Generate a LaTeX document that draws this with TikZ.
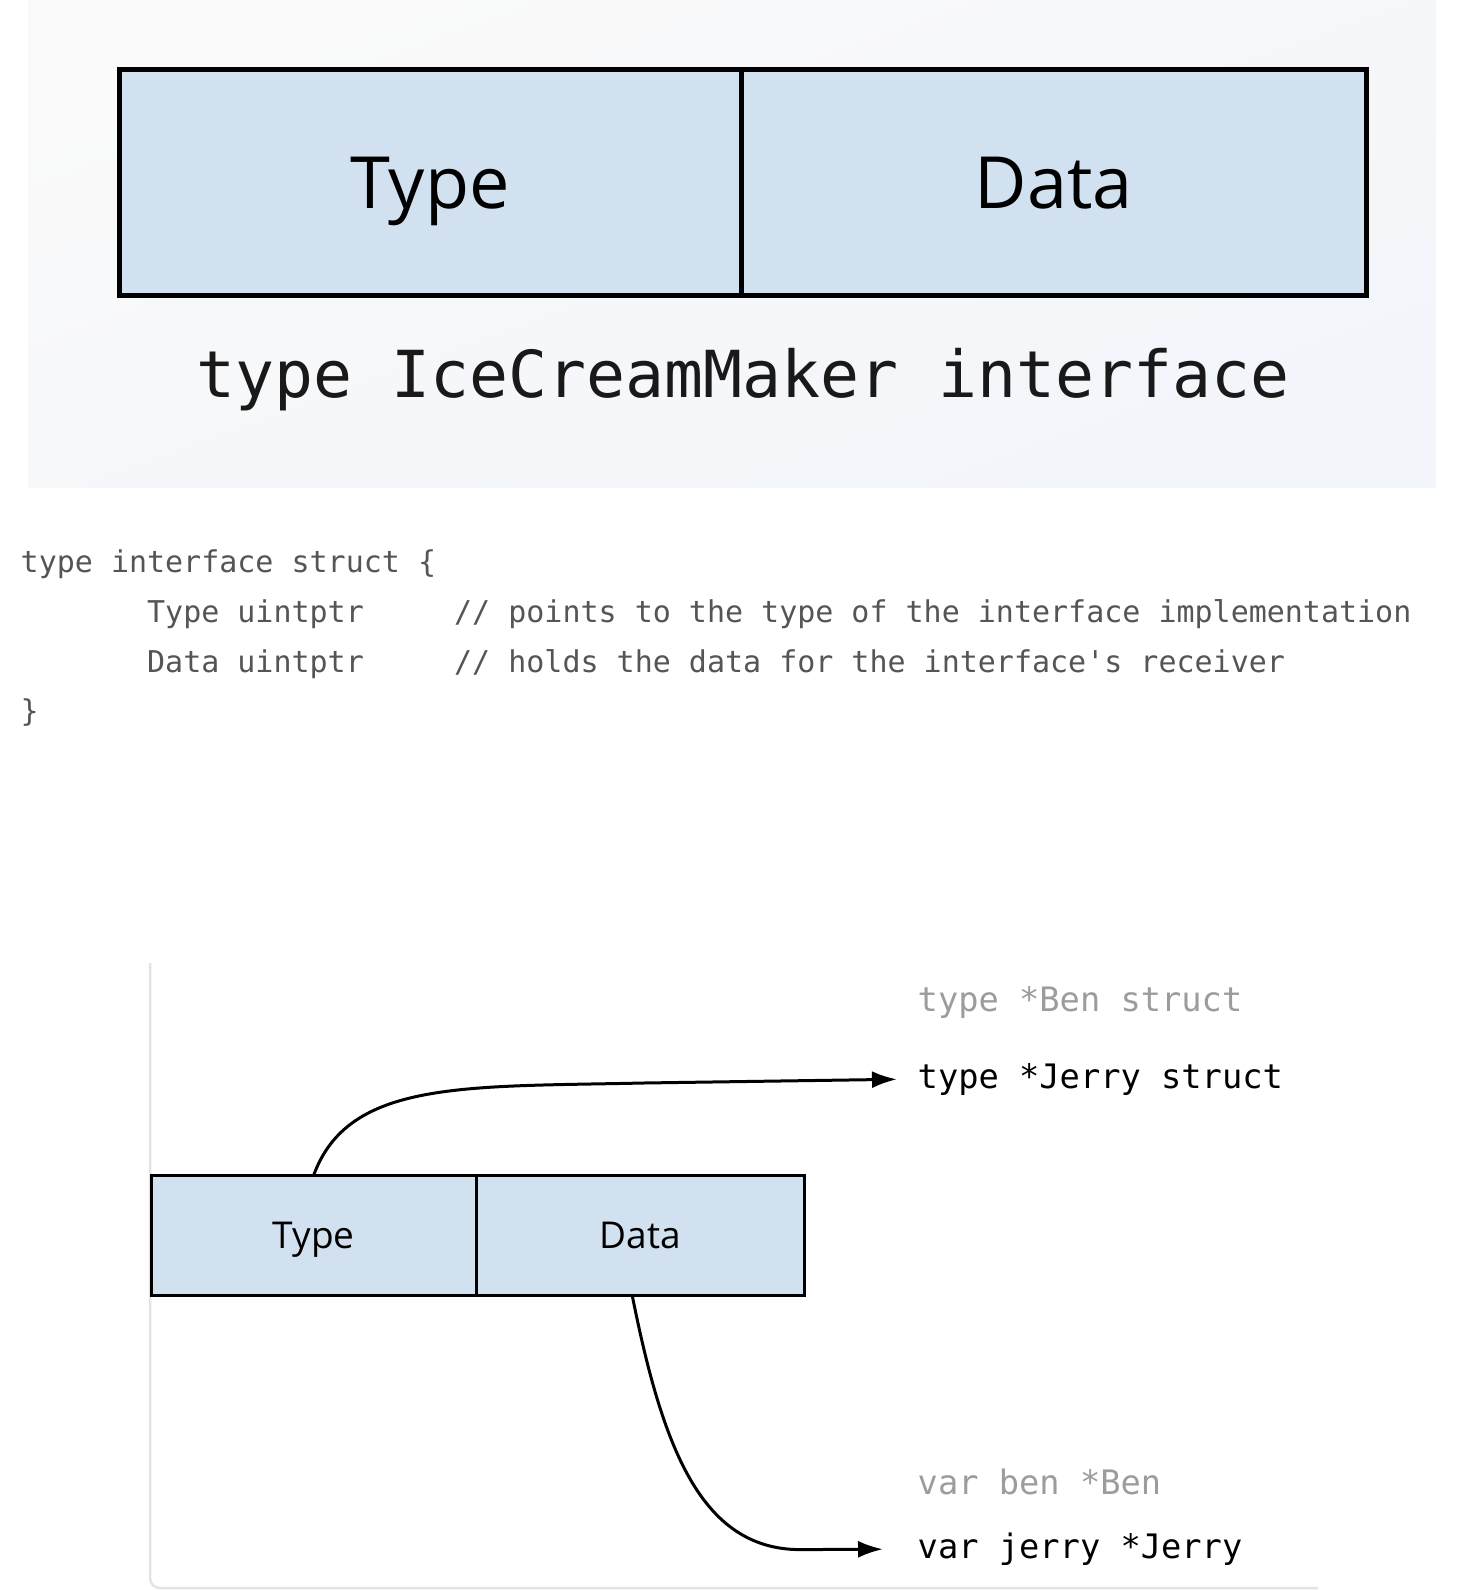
\documentclass[tikz,border=0pt]{standalone}
\usepackage{fontspec}
\usepackage{xcolor}
\usetikzlibrary{shapes.geometric, arrows.meta, positioning, calc}
\newfontfamily\cellfont{Open Sans}
\newfontfamily\codefont{DejaVu Sans Mono}
\definecolor{cellblue}{HTML}{D2E1F0}
\definecolor{panelgray}{HTML}{FAFAFA}
\definecolor{panelblue}{HTML}{F2F5FA}
\definecolor{codegray}{HTML}{555555}
\definecolor{fadedtext}{HTML}{9C9C9C}
\definecolor{cardline}{HTML}{E4E4E4}
\tikzstyle{bigcell} = [rectangle, minimum height=22.6mm, text height=5.2mm, text depth=0pt, inner sep=0pt, outer sep=0pt, draw=black, line width=0.5mm, fill=cellblue, font=\cellfont\fontsize{7.2mm}{8mm}\selectfont]
\tikzstyle{cell} = [rectangle, minimum height=12.06mm, text height=2.66mm, text depth=0pt, inner sep=0pt, outer sep=0pt, draw=black, line width=0.3mm, fill=cellblue, font=\cellfont\fontsize{3.7mm}{4.4mm}\selectfont]
\tikzstyle{codeline} = [anchor=base west, inner sep=0pt, text=codegray, font=\codefont\fontsize{3mm}{3.6mm}\selectfont]
\tikzstyle{pointed} = [anchor=west, inner sep=0pt, text=black, font=\codefont\fontsize{3.37mm}{4mm}\selectfont]
\tikzstyle{unpointed} = [pointed, text=fadedtext]
\tikzstyle{arrow} = [line width=0.3mm, -{Latex[length=2.5mm, width=1.7mm]}]

\begin{document}
\begin{tikzpicture}[x=0.1mm, y=-0.1mm]
\useasboundingbox (0,0) rectangle (1466,1590);

% Pannello superiore
\shade [top color=panelgray, bottom color=panelblue, shading angle=20] (28,0) rectangle (1436,488);
\node (big_type) [bigcell, minimum width=62.2mm, anchor=north west] at (119,70) {Type};
\node (big_data) [bigcell, minimum width=62.5mm, right=0pt of big_type] {Data};
\node (title) [anchor=base, inner sep=0pt, text=black!90, font=\codefont\fontsize{6.48mm}{7mm}\selectfont] at (743,398) {type IceCreamMaker interface};

% Codice della struct
\node (code_open) [codeline] at (20,573) {type interface struct \{};
\node (code_type) [codeline] at (20,622.5) {\ \ \ \ \ \ \ Type uintptr\ \ \ \ \ // points to the type of the interface implementation};
\node (code_data) [codeline] at (20,672) {\ \ \ \ \ \ \ Data uintptr\ \ \ \ \ // holds the data for the interface\textquotesingle s receiver};
\node (code_close) [codeline] at (20,721.5) {\}};

% Schema inferiore
\draw [cardline, line width=0.25mm, rounded corners=1mm] (150,963) -- (150,1588) -- (1318,1588);
\node (small_type) [cell, minimum width=32.55mm, anchor=north west] at (151,1175) {Type};
\node (small_data) [cell, minimum width=32.75mm, right=0pt of small_type] {Data};
\node (ben_struct) [unpointed] at (917,1002) {type *Ben struct};
\node (jerry_struct) [pointed] at (917,1079) {type *Jerry struct};
\node (ben_var) [unpointed] at (917,1482) {var ben *Ben};
\node (jerry_var) [pointed] at (917,1549) {var jerry *Jerry};

% Connessioni
\draw [arrow, shorten >=2mm] (small_type.north) .. controls +(35,-95) and +(-180,4) .. ++(330,-92) -- (jerry_struct.west);
\draw [arrow, shorten >=3.4mm] ([shift={(-8,0)}]small_data.south) .. controls +(30,150) and +(-100,0) .. ++(168,254) -- (jerry_var.west);

\end{tikzpicture}
\end{document}
